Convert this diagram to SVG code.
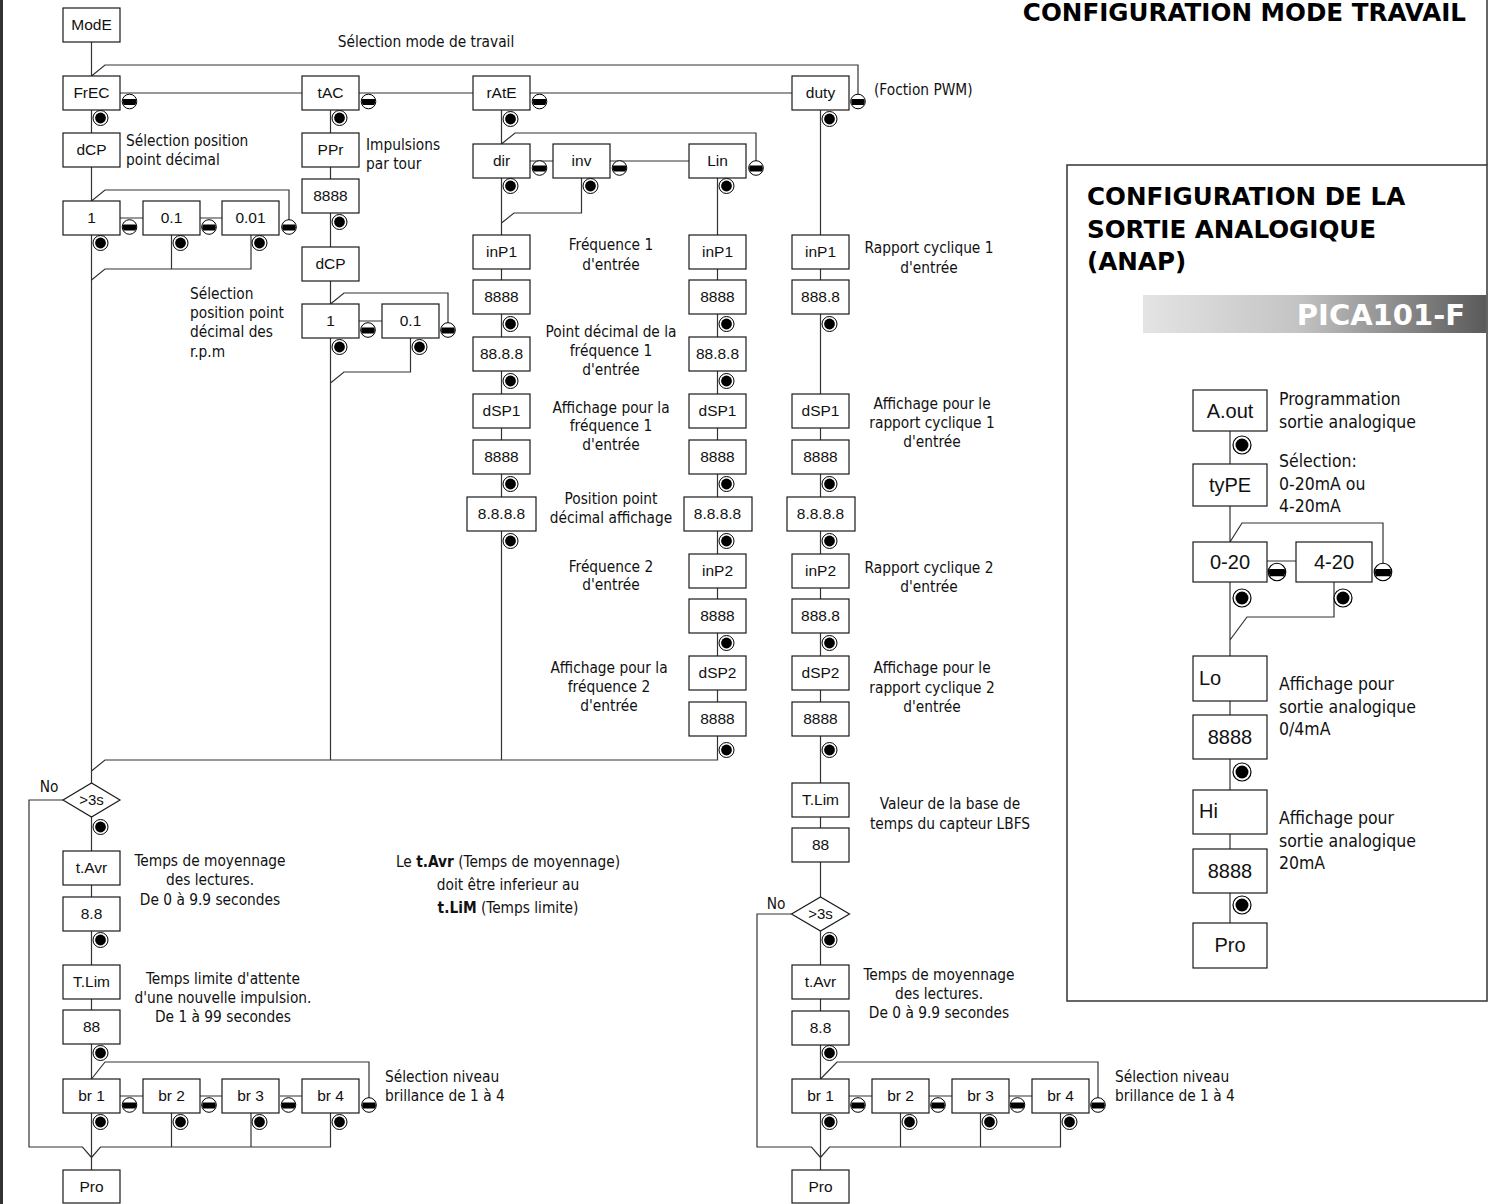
<svg xmlns="http://www.w3.org/2000/svg" xmlns:xlink="http://www.w3.org/1999/xlink" width="1491" height="1204" viewBox="0 0 1491 1204">
<style>
.bx rect{fill:#fff;stroke:#1a1a1a;stroke-width:1.2}
.bx text{font-family:"Liberation Sans",Arial,sans-serif;font-size:15.5px;text-anchor:middle;fill:#111}
.ab rect{fill:#fff;stroke:#1a1a1a;stroke-width:1.2}
.ab text{font-family:"Liberation Sans",Arial,sans-serif;font-size:20px;text-anchor:middle;fill:#111}
.dm polygon{fill:#fff;stroke:#1a1a1a;stroke-width:1.2}
.dm text{font-family:"Liberation Sans",Arial,sans-serif;font-size:15px;text-anchor:middle;fill:#111}
.cn path{fill:none;stroke:#333;stroke-width:1.2}
.l{font-family:"DejaVu Sans Condensed","DejaVu Sans",sans-serif;font-size:15.3px;fill:#111}
.c{text-anchor:middle}
.al{font-family:"DejaVu Sans Condensed","DejaVu Sans",sans-serif;font-size:17.5px;fill:#111}
.tt{font-family:"DejaVu Sans","Liberation Sans",sans-serif;font-weight:bold;fill:#000}
</style>
<defs>
<g id="ent"><circle r="7.5" fill="#fff" stroke="#000" stroke-width="1"/><circle r="5.4" fill="#000"/></g>
<g id="min"><circle r="7.3" fill="#fff" stroke="#000" stroke-width="1"/><path d="M-6.3-2.5H6.3A6.8 6.8 0 0 1 5.8 3.5H-5.8A6.8 6.8 0 0 1-6.3-2.5Z" fill="#000"/></g>
<linearGradient id="gr" x1="0" y1="0" x2="1" y2="0"><stop offset="0" stop-color="#e4e4e4"/><stop offset="0.45" stop-color="#c4c4c4"/><stop offset="1" stop-color="#5a5a5a"/></linearGradient>
</defs>
<rect width="1491" height="1204" fill="#fff"/>
<path d="M1.5 0V1204" stroke="#333" stroke-width="3"/>
<path d="M1487 0V165" stroke="#333" stroke-width="1.5"/>
<text class="tt" x="1466" y="21" font-size="24.6" text-anchor="end">CONFIGURATION MODE TRAVAIL</text>

<!-- connectors -->
<g class="cn" id="connectors">
<path d="M91.5 42V76M91.5 110V1170M91.5 76L105 65H858V94M120 93H302M359 93H473M530 93H792"/>
<path d="M91.5 201L105 190H289V220M120 218H143M200 218H222M171.5 235V269M251 235V269H105L91.5 280"/>
<path d="M330.5 110V760M330.5 304L344 293H448V323M359 321H382M410.5 338V372H344L330.5 383"/>
<path d="M501.5 110V760M501.5 144L515 133H756V161M530 161H553M610 161H689M581.5 178V213H514L501.5 223"/>
<path d="M717.5 178V760H105L91.5 771"/>
<path d="M820.5 110V1170"/>
<path d="M91.5 1079L105 1062H369V1098M120 1096H143M200 1096H222M280 1096H302M171.5 1113V1147M251 1113V1147M330.5 1113V1147H100.5L91.5 1157.5L82.5 1147H29V800H63"/>
<path d="M820.5 1079L837 1062H1098V1098M849 1096H872M929 1096H952M1009 1096H1032M900.5 1113V1147M980.5 1113V1147M1060.5 1113V1147H829.5L820.5 1157.5L811.5 1147H757V914H791.5"/>
<path d="M1230 431V923M1230 542L1242 523H1383V563M1267 561H1296M1334 582V617H1247L1230 640"/>
</g>

<!-- left column -->
<g class="bx" id="n-mode"><rect x="63" y="8" width="57" height="34"/><text x="91.5" y="30">ModE</text></g>
<g class="bx" id="n-frec"><rect x="63" y="76" width="57" height="34"/><text x="91.5" y="98">FrEC</text></g>
<g class="bx" id="n-tac"><rect x="302" y="76" width="57" height="34"/><text x="330.5" y="98">tAC</text></g>
<g class="bx" id="n-rate"><rect x="473" y="76" width="57" height="34"/><text x="501.5" y="98">rAtE</text></g>
<g class="bx" id="n-duty"><rect x="792" y="76" width="57" height="34"/><text x="820.5" y="98">duty</text></g>
<g class="bx" id="n-dcp1"><rect x="63" y="133" width="57" height="34"/><text x="91.5" y="155">dCP</text></g>
<g class="bx" id="n-ppr"><rect x="302" y="133" width="57" height="34"/><text x="330.5" y="155">PPr</text></g>
<g class="bx" id="n-ppr8"><rect x="302" y="179" width="57" height="34"/><text x="330.5" y="201">8888</text></g>
<g class="bx" id="n-dcp2"><rect x="302" y="247" width="57" height="34"/><text x="330.5" y="269">dCP</text></g>
<g class="bx" id="n-d1"><rect x="63" y="201" width="57" height="34"/><text x="91.5" y="223">1</text></g>
<g class="bx" id="n-d01"><rect x="143" y="201" width="57" height="34"/><text x="171.5" y="223">0.1</text></g>
<g class="bx" id="n-d001"><rect x="222" y="201" width="57" height="34"/><text x="250.5" y="223">0.01</text></g>
<g class="bx" id="n-t1"><rect x="302" y="304" width="57" height="34"/><text x="330.5" y="326">1</text></g>
<g class="bx" id="n-t01"><rect x="382" y="304" width="57" height="34"/><text x="410.5" y="326">0.1</text></g>
<g class="bx" id="n-dir"><rect x="473" y="144" width="57" height="34"/><text x="501.5" y="166">dir</text></g>
<g class="bx" id="n-inv"><rect x="553" y="144" width="57" height="34"/><text x="581.5" y="166">inv</text></g>
<g class="bx" id="n-lin"><rect x="689" y="144" width="57" height="34"/><text x="717.5" y="166">Lin</text></g>

<!-- rAtE column -->
<g class="bx" id="n-r-inp1"><rect x="473" y="235" width="57" height="34"/><text x="501.5" y="257">inP1</text></g>
<g class="bx" id="n-r-v1"><rect x="473" y="280" width="57" height="34"/><text x="501.5" y="302">8888</text></g>
<g class="bx" id="n-r-dp"><rect x="473" y="337" width="57" height="34"/><text x="501.5" y="359">88.8.8</text></g>
<g class="bx" id="n-r-dsp1"><rect x="473" y="394" width="57" height="34"/><text x="501.5" y="416">dSP1</text></g>
<g class="bx" id="n-r-v2"><rect x="473" y="440" width="57" height="34"/><text x="501.5" y="462">8888</text></g>
<g class="bx" id="n-r-pd"><rect x="467" y="497" width="69" height="34"/><text x="501.5" y="519">8.8.8.8</text></g>

<!-- Lin column -->
<g class="bx" id="n-l-inp1"><rect x="689" y="235" width="57" height="34"/><text x="717.5" y="257">inP1</text></g>
<g class="bx" id="n-l-v1"><rect x="689" y="280" width="57" height="34"/><text x="717.5" y="302">8888</text></g>
<g class="bx" id="n-l-dp"><rect x="689" y="337" width="57" height="34"/><text x="717.5" y="359">88.8.8</text></g>
<g class="bx" id="n-l-dsp1"><rect x="689" y="394" width="57" height="34"/><text x="717.5" y="416">dSP1</text></g>
<g class="bx" id="n-l-v2"><rect x="689" y="440" width="57" height="34"/><text x="717.5" y="462">8888</text></g>
<g class="bx" id="n-l-pd"><rect x="684" y="497" width="68" height="34"/><text x="717.5" y="519">8.8.8.8</text></g>
<g class="bx" id="n-l-inp2"><rect x="689" y="554" width="57" height="34"/><text x="717.5" y="576">inP2</text></g>
<g class="bx" id="n-l-v3"><rect x="689" y="599" width="57" height="34"/><text x="717.5" y="621">8888</text></g>
<g class="bx" id="n-l-dsp2"><rect x="689" y="656" width="57" height="34"/><text x="717.5" y="678">dSP2</text></g>
<g class="bx" id="n-l-v4"><rect x="689" y="702" width="57" height="34"/><text x="717.5" y="724">8888</text></g>

<!-- duty column -->
<g class="bx" id="n-u-inp1"><rect x="792" y="235" width="57" height="34"/><text x="820.5" y="257">inP1</text></g>
<g class="bx" id="n-u-v1"><rect x="792" y="280" width="57" height="34"/><text x="820.5" y="302">888.8</text></g>
<g class="bx" id="n-u-dsp1"><rect x="792" y="394" width="57" height="34"/><text x="820.5" y="416">dSP1</text></g>
<g class="bx" id="n-u-v2"><rect x="792" y="440" width="57" height="34"/><text x="820.5" y="462">8888</text></g>
<g class="bx" id="n-u-pd"><rect x="787" y="497" width="68" height="34"/><text x="820.5" y="519">8.8.8.8</text></g>
<g class="bx" id="n-u-inp2"><rect x="792" y="554" width="57" height="34"/><text x="820.5" y="576">inP2</text></g>
<g class="bx" id="n-u-v3"><rect x="792" y="599" width="57" height="34"/><text x="820.5" y="621">888.8</text></g>
<g class="bx" id="n-u-dsp2"><rect x="792" y="656" width="57" height="34"/><text x="820.5" y="678">dSP2</text></g>
<g class="bx" id="n-u-v4"><rect x="792" y="702" width="57" height="34"/><text x="820.5" y="724">8888</text></g>
<g class="bx" id="n-u-tlim"><rect x="792" y="783" width="57" height="34"/><text x="820.5" y="805">T.Lim</text></g>
<g class="bx" id="n-u-88"><rect x="792" y="828" width="57" height="34"/><text x="820.5" y="850">88</text></g>
<g class="dm" id="n-u-3s"><polygon points="791.5,914 820.5,897 849.5,914 820.5,931"/><text x="820.5" y="919">&gt;3s</text></g>
<g class="bx" id="n-u-tavr"><rect x="792" y="965" width="57" height="34"/><text x="820.5" y="987">t.Avr</text></g>
<g class="bx" id="n-u-88b"><rect x="792" y="1011" width="57" height="34"/><text x="820.5" y="1033">8.8</text></g>
<g class="bx" id="n-u-br1"><rect x="792" y="1079" width="57" height="34"/><text x="820.5" y="1101">br 1</text></g>
<g class="bx" id="n-u-br2"><rect x="872" y="1079" width="57" height="34"/><text x="900.5" y="1101">br 2</text></g>
<g class="bx" id="n-u-br3"><rect x="952" y="1079" width="57" height="34"/><text x="980.5" y="1101">br 3</text></g>
<g class="bx" id="n-u-br4"><rect x="1032" y="1079" width="57" height="34"/><text x="1060.5" y="1101">br 4</text></g>
<g class="bx" id="n-u-pro"><rect x="792" y="1170" width="57" height="33"/><text x="820.5" y="1192">Pro</text></g>

<!-- left lower -->
<g class="dm" id="n-l-3s"><polygon points="63,800 91.5,783 120,800 91.5,817"/><text x="91.5" y="805">&gt;3s</text></g>
<g class="bx" id="n-tavr"><rect x="63" y="851" width="57" height="34"/><text x="91.5" y="873">t.Avr</text></g>
<g class="bx" id="n-88a"><rect x="63" y="897" width="57" height="34"/><text x="91.5" y="919">8.8</text></g>
<g class="bx" id="n-tlim"><rect x="63" y="965" width="57" height="34"/><text x="91.5" y="987">T.Lim</text></g>
<g class="bx" id="n-88"><rect x="63" y="1010" width="57" height="34"/><text x="91.5" y="1032">88</text></g>
<g class="bx" id="n-br1"><rect x="63" y="1079" width="57" height="34"/><text x="91.5" y="1101">br 1</text></g>
<g class="bx" id="n-br2"><rect x="143" y="1079" width="57" height="34"/><text x="171.5" y="1101">br 2</text></g>
<g class="bx" id="n-br3"><rect x="222" y="1079" width="57" height="34"/><text x="250.5" y="1101">br 3</text></g>
<g class="bx" id="n-br4"><rect x="302" y="1079" width="57" height="34"/><text x="330.5" y="1101">br 4</text></g>
<g class="bx" id="n-pro"><rect x="63" y="1170" width="57" height="33"/><text x="91.5" y="1192">Pro</text></g>

<!-- buttons -->
<g id="buttons">
<use href="#min" x="129.5" y="101.5"/><use href="#min" x="368.5" y="101.5"/><use href="#min" x="539.5" y="101.5"/><use href="#min" x="858" y="101.5"/>
<use href="#min" x="129.5" y="227"/><use href="#min" x="209" y="227"/><use href="#min" x="289" y="227"/>
<use href="#min" x="368" y="330"/><use href="#min" x="448" y="330"/>
<use href="#min" x="539.5" y="168"/><use href="#min" x="619.5" y="168"/><use href="#min" x="756" y="168"/>
<use href="#min" x="129.5" y="1105"/><use href="#min" x="209" y="1105"/><use href="#min" x="288.5" y="1105"/><use href="#min" x="369" y="1105"/>
<use href="#min" x="858" y="1105"/><use href="#min" x="938" y="1105"/><use href="#min" x="1017.5" y="1105"/><use href="#min" x="1098" y="1105"/>
<use href="#ent" x="100.5" y="118"/><use href="#ent" x="339.5" y="118"/><use href="#ent" x="510.5" y="119"/><use href="#ent" x="829.5" y="119"/>
<use href="#ent" x="100.5" y="243"/><use href="#ent" x="180.5" y="243"/><use href="#ent" x="259.5" y="243"/>
<use href="#ent" x="339.5" y="222"/><use href="#ent" x="339.5" y="347"/><use href="#ent" x="419.5" y="347"/>
<use href="#ent" x="510.5" y="186"/><use href="#ent" x="590.5" y="186"/><use href="#ent" x="726.5" y="186"/>
<use href="#ent" x="510.5" y="324"/><use href="#ent" x="510.5" y="381"/><use href="#ent" x="510.5" y="484"/><use href="#ent" x="510.5" y="541"/>
<use href="#ent" x="726.5" y="324"/><use href="#ent" x="726.5" y="381"/><use href="#ent" x="726.5" y="484"/><use href="#ent" x="726.5" y="541"/><use href="#ent" x="726.5" y="643"/><use href="#ent" x="726.5" y="750"/>
<use href="#ent" x="829.5" y="324"/><use href="#ent" x="829.5" y="484"/><use href="#ent" x="829.5" y="541"/><use href="#ent" x="829.5" y="643"/><use href="#ent" x="829.5" y="750"/>
<use href="#ent" x="100.5" y="827"/><use href="#ent" x="100.5" y="940"/><use href="#ent" x="100.5" y="1053"/>
<use href="#ent" x="100.5" y="1122"/><use href="#ent" x="180.5" y="1122"/><use href="#ent" x="259.5" y="1122"/><use href="#ent" x="339.5" y="1122"/>
<use href="#ent" x="829.5" y="940"/><use href="#ent" x="829.5" y="1053"/>
<use href="#ent" x="829.5" y="1122"/><use href="#ent" x="909.5" y="1122"/><use href="#ent" x="989.5" y="1122"/><use href="#ent" x="1069.5" y="1122"/>
</g>

<!-- labels -->
<g id="labels">
<text class="l c" x="426" y="47">Sélection mode de travail</text>
<text class="l" x="874" y="95">(Foction PWM)</text>
<text class="l" x="126" y="146">Sélection position</text>
<text class="l" x="126" y="165">point décimal</text>
<text class="l" x="366" y="150">Impulsions</text>
<text class="l" x="366" y="169">par tour</text>
<text class="l" x="190" y="299">Sélection</text>
<text class="l" x="190" y="318">position point</text>
<text class="l" x="190" y="337">décimal des</text>
<text class="l" x="190" y="357">r.p.m</text>
<text class="l c" x="611" y="250">Fréquence 1</text>
<text class="l c" x="611" y="270">d'entrée</text>
<text class="l c" x="611" y="337">Point décimal de la</text>
<text class="l c" x="611" y="356">fréquence 1</text>
<text class="l c" x="611" y="375">d'entrée</text>
<text class="l c" x="611" y="413">Affichage pour la</text>
<text class="l c" x="611" y="431">fréquence 1</text>
<text class="l c" x="611" y="450">d'entrée</text>
<text class="l c" x="611" y="504">Position point</text>
<text class="l c" x="611" y="523">décimal affichage</text>
<text class="l c" x="611" y="572">Fréquence 2</text>
<text class="l c" x="611" y="590">d'entrée</text>
<text class="l c" x="609" y="673">Affichage pour la</text>
<text class="l c" x="609" y="692">fréquence 2</text>
<text class="l c" x="609" y="711">d'entrée</text>
<text class="l c" x="929" y="253">Rapport cyclique 1</text>
<text class="l c" x="929" y="273">d'entrée</text>
<text class="l c" x="932" y="409">Affichage pour le</text>
<text class="l c" x="932" y="428">rapport cyclique 1</text>
<text class="l c" x="932" y="447">d'entrée</text>
<text class="l c" x="929" y="573">Rapport cyclique 2</text>
<text class="l c" x="929" y="592">d'entrée</text>
<text class="l c" x="932" y="673">Affichage pour le</text>
<text class="l c" x="932" y="693">rapport cyclique 2</text>
<text class="l c" x="932" y="712">d'entrée</text>
<text class="l c" x="950" y="809">Valeur de la base de</text>
<text class="l c" x="950" y="829">temps du capteur LBFS</text>
<text class="l c" x="939" y="980">Temps de moyennage</text>
<text class="l c" x="939" y="999">des lectures.</text>
<text class="l c" x="939" y="1018">De 0 à 9.9 secondes</text>
<text class="l" x="1115" y="1082">Sélection niveau</text>
<text class="l" x="1115" y="1101">brillance de 1 à 4</text>
<text class="l c" x="776" y="909">No</text>
<text class="l c" x="49" y="792">No</text>
<text class="l c" x="210" y="866">Temps de moyennage</text>
<text class="l c" x="210" y="885">des lectures.</text>
<text class="l c" x="210" y="905">De 0 à 9.9 secondes</text>
<text class="l c" x="223" y="984">Temps limite d'attente</text>
<text class="l c" x="223" y="1003">d'une nouvelle impulsion.</text>
<text class="l c" x="223" y="1022">De 1 à 99 secondes</text>
<text class="l" x="385" y="1082">Sélection niveau</text>
<text class="l" x="385" y="1101">brillance de 1 à 4</text>
<text class="l c" x="508" y="867">Le <tspan font-weight="bold">t.Avr</tspan> (Temps de moyennage)</text>
<text class="l c" x="508" y="890">doit être inferieur au</text>
<text class="l c" x="508" y="913"><tspan font-weight="bold">t.LiM</tspan> (Temps limite)</text>
</g>

<!-- analog output panel -->
<g id="analog">
<rect x="1067" y="165" width="420" height="836" fill="none" stroke="#333" stroke-width="1.5"/>
<text class="tt" x="1087" y="205" font-size="24.6">CONFIGURATION DE LA</text>
<text class="tt" x="1087" y="238" font-size="24.6">SORTIE ANALOGIQUE</text>
<text class="tt" x="1087" y="270" font-size="24.6">(ANAP)</text>
<rect x="1143" y="295" width="343" height="38" fill="url(#gr)"/>
<text class="tt" x="1465" y="325" font-size="29" text-anchor="end" style="fill:#fff">PICA101-F</text>
<text class="al" x="1279" y="405">Programmation</text>
<text class="al" x="1279" y="428">sortie analogique</text>
<text class="al" x="1279" y="467">Sélection:</text>
<text class="al" x="1279" y="490">0-20mA ou</text>
<text class="al" x="1279" y="512">4-20mA</text>
<text class="al" x="1279" y="690">Affichage pour</text>
<text class="al" x="1279" y="713">sortie analogique</text>
<text class="al" x="1279" y="735">0/4mA</text>
<text class="al" x="1279" y="824">Affichage pour</text>
<text class="al" x="1279" y="847">sortie analogique</text>
<text class="al" x="1279" y="869">20mA</text>
</g>
<g class="ab" id="n-aout"><rect x="1193" y="390" width="74" height="41"/><text x="1230" y="418">A.out</text></g>
<g class="ab" id="n-type"><rect x="1193" y="464" width="74" height="42"/><text x="1230" y="492">tyPE</text></g>
<g class="ab" id="n-020"><rect x="1193" y="542" width="74" height="40"/><text x="1230" y="569">0-20</text></g>
<g class="ab" id="n-420"><rect x="1296" y="542" width="76" height="40"/><text x="1334" y="569">4-20</text></g>
<g class="ab" id="n-lo"><rect x="1193" y="656" width="74" height="45"/><text x="1199" y="685" style="text-anchor:start">Lo</text></g>
<g class="ab" id="n-lov"><rect x="1193" y="715" width="74" height="44"/><text x="1230" y="744">8888</text></g>
<g class="ab" id="n-hi"><rect x="1193" y="790" width="74" height="44"/><text x="1199" y="818" style="text-anchor:start">Hi</text></g>
<g class="ab" id="n-hiv"><rect x="1193" y="849" width="74" height="44"/><text x="1230" y="878">8888</text></g>
<g class="ab" id="n-apro"><rect x="1193" y="923" width="74" height="45"/><text x="1230" y="952">Pro</text></g>
<g id="analog-buttons">
<use href="#ent" transform="translate(1242 445) scale(1.2)"/>
<use href="#ent" transform="translate(1242 598) scale(1.2)"/>
<use href="#ent" transform="translate(1343 598) scale(1.2)"/>
<use href="#min" transform="translate(1277 572) scale(1.2)"/>
<use href="#min" transform="translate(1383 572) scale(1.2)"/>
<use href="#ent" transform="translate(1242 772) scale(1.2)"/>
<use href="#ent" transform="translate(1242 905) scale(1.2)"/>
</g>
</svg>
